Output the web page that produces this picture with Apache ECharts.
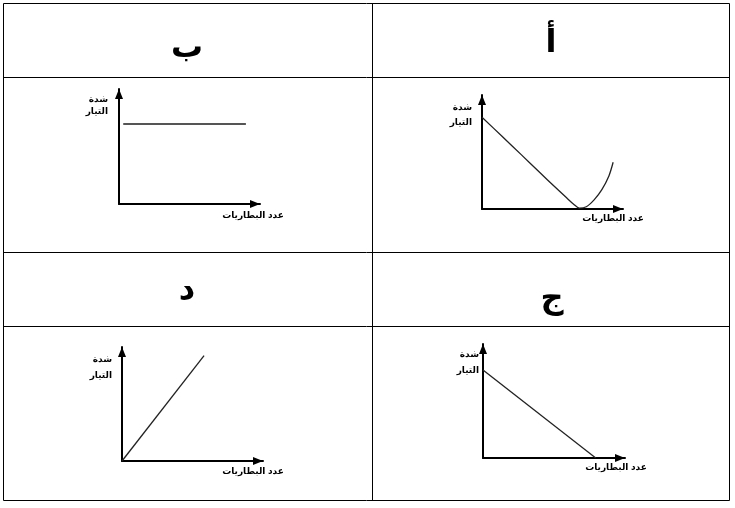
<!DOCTYPE html>
<html>
<head>
<meta charset="utf-8">
<script src="https://cdn.jsdelivr.net/npm/echarts@6/dist/echarts.min.js"></script>
<style>
html,body{margin:0;padding:0;background:#fff;}
#chart{width:735px;height:508px;}
</style>
</head>
<body>
<div id="chart"></div>
<script>
// Panel titles (table header letters)
const panelLetters = ['أ', 'ب', 'ج', 'د'];
// Axis titles
const yAxisTitle = 'شدة\nالتيار';
const xAxisTitle = 'عدد البطاريات';
// Series values (number of batteries vs current, arbitrary units 0-10)
const curveA = [[0, 8.05], [1.4, 6.4], [2.8, 4.75], [4.1, 3.2], [5.2, 1.9], [6.0, 0.98], [6.5, 0.42], [6.9, 0.08], [7.4, 0.2], [7.95, 0.8], [8.5, 1.7], [9.0, 2.9], [9.3, 4.1]];
const lineB = [[0.3, 6.96], [9.0, 6.96]];
const lineC = [[0, 7.72], [7.94, 0]];
const lineD = [[0, 0], [5.82, 9.24]];

const FONT = 'Liberation Sans, DejaVu Sans, sans-serif';

// layout per panel: grid + label tweaks
const panels = [
  {grid: {left: 482, top: 95, width: 141, height: 114}, data: curveA, smooth: 0.3,
   yName: {gap: -5, lh: 15, pad: 10}, xName: {gap: -10, pad: 5}, color: '#222'},
  {grid: {left: 119, top: 89, width: 141, height: 115}, data: lineB, smooth: false,
   yName: {gap: -5, lh: 12, pad: 11}, xName: {gap: -7, pad: 7}, color: '#555'},
  {grid: {left: 483, top: 344, width: 142, height: 114}, data: lineC, smooth: false,
   yName: {gap: -3, lh: 16, pad: 4}, xName: {gap: -9, pad: 5}, color: '#222'},
  {grid: {left: 122, top: 347, width: 141, height: 114}, data: lineD, smooth: false,
   yName: {gap: -5, lh: 16, pad: 10}, xName: {gap: -10, pad: 6}, color: '#222'}
];

const axisLine = {
  show: true,
  symbol: ['none', 'triangle'],
  symbolSize: [8, 10],
  symbolOffset: [0, -5],
  lineStyle: {color: '#000', width: 2}
};

const grids = [], xAxes = [], yAxes = [], series = [];
panels.forEach((p, i) => {
  grids.push(Object.assign({containLabel: false}, p.grid));
  xAxes.push({
    type: 'value', gridIndex: i, min: 0, max: 10,
    axisLine: axisLine, axisTick: {show: false}, axisLabel: {show: false}, splitLine: {show: false},
    name: xAxisTitle, nameLocation: 'end', nameGap: p.xName.gap,
    nameTextStyle: {fontFamily: FONT, fontSize: 9, fontWeight: 'bold', color: '#000',
      align: 'center', verticalAlign: 'top', padding: [p.xName.pad, 0, 0, 0]}
  });
  yAxes.push({
    type: 'value', gridIndex: i, min: 0, max: 10,
    axisLine: axisLine, axisTick: {show: false}, axisLabel: {show: false}, splitLine: {show: false},
    name: yAxisTitle, nameLocation: 'end', nameGap: p.yName.gap,
    nameTextStyle: {fontFamily: FONT, fontSize: 9, fontWeight: 'bold', color: '#000',
      align: 'right', verticalAlign: 'top', lineHeight: p.yName.lh, padding: [0, p.yName.pad, 0, 0]}
  });
  series.push({
    type: 'line', xAxisIndex: i, yAxisIndex: i, data: p.data,
    smooth: p.smooth, showSymbol: false, symbol: 'none', clip: true,
    lineStyle: {color: p.color, width: i === 1 ? 2 : 1.3}, z: 1
  });
});

// table geometry
const X0 = 3.5, XM = 372.5, X1 = 729.5;
const YS = [3.5, 77.5, 252.5, 326.5, 500.5];
const lineStyle = {stroke: '#000', lineWidth: 1};
const graphics = [];
YS.forEach(y => graphics.push({type: 'line', shape: {x1: X0, y1: y, x2: X1, y2: y}, style: lineStyle, silent: true}));
[X0, XM, X1].forEach(x => graphics.push({type: 'line', shape: {x1: x, y1: YS[0], x2: x, y2: YS[4]}, style: lineStyle, silent: true}));

// header letters: أ (right top), ب (left top), ج (right bottom), د (left bottom)
const letterPos = [
  {x: 551, y: 44}, {x: 187, y: 49}, {x: 552, y: 300}, {x: 187, y: 291}
];
panelLetters.forEach((t, i) => {
  graphics.push({type: 'text', silent: true, style: {
    text: t, x: letterPos[i].x, y: letterPos[i].y, textAlign: 'center', textVerticalAlign: 'middle',
    fontSize: 32, fontWeight: 'bold', fontFamily: 'DejaVu Sans, serif', fill: '#000'
  }});
});

const chart = echarts.init(document.getElementById('chart'), null, {renderer: 'canvas'});
chart.setOption({
  animation: false,
  backgroundColor: '#fff',
  grid: grids,
  xAxis: xAxes,
  yAxis: yAxes,
  series: series,
  graphic: graphics
});
</script>
</body>
</html>
